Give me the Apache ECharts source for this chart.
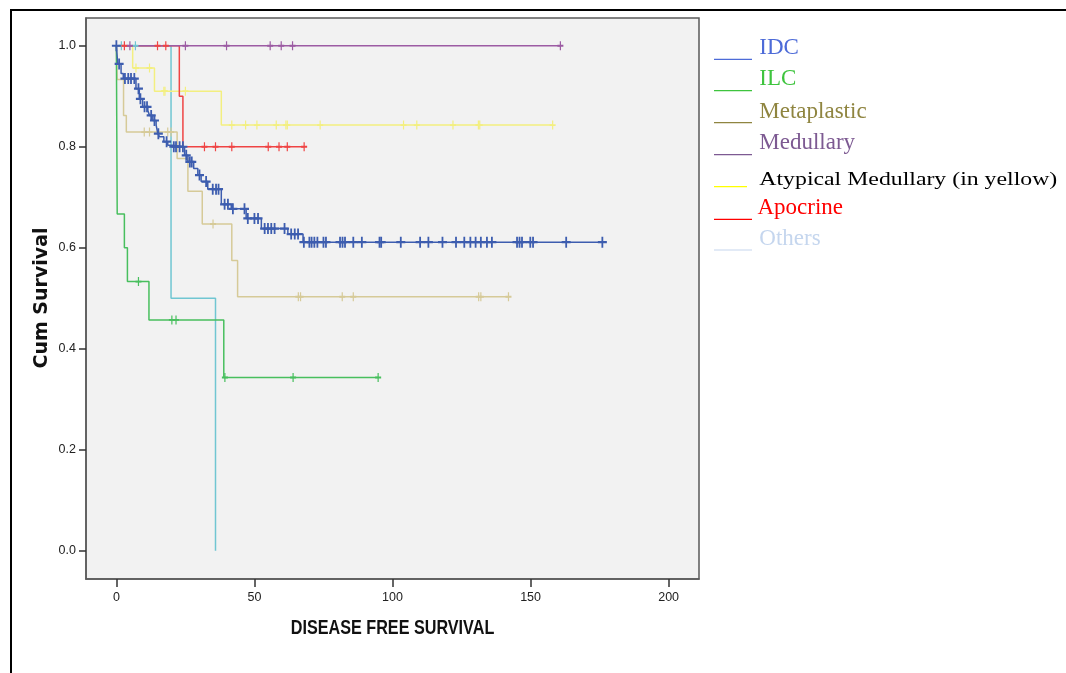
<!DOCTYPE html>
<html>
<head>
<meta charset="utf-8">
<script src="https://cdn.jsdelivr.net/npm/echarts@6/dist/echarts.min.js"></script>
<style>
html,body{margin:0;padding:0;background:#fff;}
#chart{width:1066px;height:673px;}
</style>
</head>
<body>
<div id="chart"></div>
<script>
// ---- data (time, cumulative survival) ----
const timeTicks = [0, 50, 100, 150, 200];
const survTicks = [0, 0.2, 0.4, 0.6, 0.8, 1.0];
const xTitle = 'DISEASE FREE SURVIVAL';
const yTitle = 'Cum Survival';

const groupNames = ['IDC', 'ILC', 'Metaplastic', 'Medullary', 'Atypical Medullary (in yellow)', 'Apocrine', 'Others'];

const idcSteps = [[0,1],[0.5,0.964],[1.7,0.945],[2.5,0.935],[7.1,0.915],[8.3,0.895],[9.5,0.879],[11.4,0.872],[12,0.862],[13.2,0.852],[14.4,0.843],[15,0.826],[15.6,0.82],[17.2,0.81],[18.6,0.803],[20.4,0.8],[24.7,0.783],[25.9,0.77],[28,0.757],[29.5,0.744],[30.7,0.731],[33.1,0.716],[38,0.686],[41.6,0.677],[47,0.658],[52.5,0.638],[62.1,0.627],[67.6,0.611],[176,0.611]];
const idcCensored = [0,1.0,3.1,4.3,5.3,6.5,8,8.7,10.2,11.1,12.6,13.8,15.2,18.2,20.8,21.6,22.9,24.1,25.3,26.6,27.3,30.1,32.5,34.9,36.1,37,39.2,40.4,42.2,46.4,47.6,50,51.3,53.7,54.9,56.1,57.3,60.9,63.3,64.6,65.8,67.9,69.9,70.7,71.7,72.8,75,75.9,81,81.9,82.8,85.8,88.9,95.3,95.9,103,110,113,118.1,123,126,128.2,130.1,132,134.2,136,145.1,146,146.9,149.9,150.9,162.9,176];

const ilcSteps = [[0,1],[0.3,0.667],[2.9,0.6],[4,0.533],[11.8,0.457],[38.9,0.343],[94.8,0.343]];
const ilcCensored = [8,20.1,21.6,39.3,64,94.8];

const metaSteps = [[0,1],[0.3,0.933],[2.6,0.862],[3.6,0.829],[22,0.777],[25.9,0.712],[31.1,0.647],[41.8,0.575],[43.9,0.503],[142,0.503]];
const metaCensored = [10.1,12,18.6,19.8,35,65.9,66.7,81.8,85.8,131.2,132,142];

const medSteps = [[0,1],[160.8,1]];
const medCensored = [4.9,25,39.9,55.7,59.7,63.8,160.8];

const atypSteps = [[0,1],[5.9,0.956],[13.8,0.91],[38,0.843],[158,0.843]];
const atypCensored = [7.1,12,17.2,17.6,25,41.8,46.8,50.9,57.9,61.4,61.9,73.8,104,108.8,121.9,131.1,131.6,158];

const apoSteps = [[0,1],[22.8,0.9],[24.1,0.8],[68,0.8]];
const apoCensored = [2.9,14.9,17.9,31.9,35.9,41.8,55,58.9,61.9,68];

const othSteps = [[0,1],[19.8,0.5],[35.9,0]];
const othCensored = [1.8,6.9];

// ---- styling ----
const lineColors = {
  'IDC':'#3d5daf','ILC':'#48bf5e','Metaplastic':'#d6ca98','Medullary':'#9c5ba3',
  'Atypical Medullary (in yellow)':'#f3ef80','Apocrine':'#ef4444','Others':'#70c6d2'
};
const legendTextColors = ['#4d6bd8','#3ec43e','#8f8540','#7d5a92','#000000','#ff0000','#c5d6ee'];
const legendLineColors = ['#4d6bd8','#3ec43e','#8f8540','#7d5a92','#ffff00','#ff0000','#c5d6ee'];

function survAt(steps, t){
  let v = steps[0][1];
  for (const p of steps){ if (p[0] <= t) v = p[1]; else break; }
  return v;
}
const plusPath = 'path://M4,0H6V4H10V6H6V10H4V6H0V4H4Z';

const groups = [
  ['Others', othSteps, othCensored],
  ['Metaplastic', metaSteps, metaCensored],
  ['Atypical Medullary (in yellow)', atypSteps, atypCensored],
  ['Apocrine', apoSteps, apoCensored],
  ['ILC', ilcSteps, ilcCensored],
  ['Medullary', medSteps, medCensored],
  ['IDC', idcSteps, idcCensored]
];

const series = [];
groups.forEach(([name, steps, cens]) => {
  const c = lineColors[name];
  series.push({
    name, type:'line', step:'end', data: steps, showSymbol:false, symbol:'none',
    lineStyle:{color:c, width:1.5}, silent:true, animation:false, z:2
  });
  const big = name === 'IDC';
  series.push({
    name: name + ' censored', type:'scatter', symbol: plusPath,
    symbolSize: big ? [9,11] : [6,9],
    data: cens.map(t => [t, survAt(steps, t)]),
    itemStyle:{color:c, opacity:1}, silent:true, animation:false, z:3
  });
});

// ---- legend, titles & frame graphics ----
const legendBaselines = [56, 86.7, 119.3, 150.7, 186.7, 216, 246.7];
const legendLineY = [59.3, 90.7, 122.7, 154.7, 186.7, 219.3, 250];
const graphics = [];
graphics.push({type:'polyline', shape:{points:[[11,673],[11,10],[1066,10]]}, style:{stroke:'#000', lineWidth:2, fill:null}, silent:true});
// x axis title (condensed bold)
graphics.push({type:'text', x:392.5, y:629, scaleX:0.83,
  style:{text:xTitle, fill:'#111', font:"bold 19.5px 'Liberation Sans', Arial, sans-serif", align:'center', verticalAlign:'middle'}, silent:true});
// y axis title (rotated)
graphics.push({type:'text', x:42, y:298, rotation:Math.PI/2,
  style:{text:yTitle, fill:'#111', font:"bold 19px 'DejaVu Sans', sans-serif", align:'center', verticalAlign:'middle'}, silent:true});
groupNames.forEach((n, i) => {
  const isAtyp = i === 4;
  graphics.push({type:'line', shape:{x1:714, y1:legendLineY[i], x2: isAtyp ? 747 : 752, y2:legendLineY[i]},
    style:{stroke:legendLineColors[i], lineWidth:1.2}, silent:true});
  const size = isAtyp ? 19.5 : 23;
  graphics.push({type:'text', x: i === 5 ? 757.5 : 759.3, y: legendBaselines[i] - 0.3375*size,
    scaleX: isAtyp ? 1.22 : 1,
    style:{text:n, fill:legendTextColors[i], font: size + "px 'Liberation Serif', 'Times New Roman', serif",
      align:'left', verticalAlign:'middle'}, silent:true});
});

const chart = echarts.init(document.getElementById('chart'), null, {renderer:'canvas'});
chart.setOption({
  animation:false,
  backgroundColor:'#ffffff',
  grid:{left:86, right:367, top:18, bottom:94, show:true, backgroundColor:'#f2f2f2', borderColor:'#5a5a5a', borderWidth:1.5},
  xAxis:{
    type:'value', min:-11, max:211,
    axisLine:{show:true, onZero:false, lineStyle:{color:'#5a5a5a', width:1.5}},
    axisTick:{show:true, length:8, customValues: timeTicks, lineStyle:{color:'#333', width:1.5}},
    axisLabel:{customValues: timeTicks, margin:12, fontSize:12.5, color:'#222', fontFamily:"'Liberation Sans', sans-serif"},
    splitLine:{show:false}
  },
  yAxis:{
    type:'value', min:-0.056, max:1.055,
    axisLine:{show:true, onZero:false, lineStyle:{color:'#5a5a5a', width:1.5}},
    axisTick:{show:true, length:7, customValues: survTicks, lineStyle:{color:'#333', width:1.5}},
    axisLabel:{customValues: survTicks, margin:10, fontSize:12.5, color:'#222', fontFamily:"'Liberation Sans', sans-serif",
      formatter: v => Number(v).toFixed(1)},
    splitLine:{show:false}
  },
  series,
  graphic: graphics
});
</script>
</body>
</html>
